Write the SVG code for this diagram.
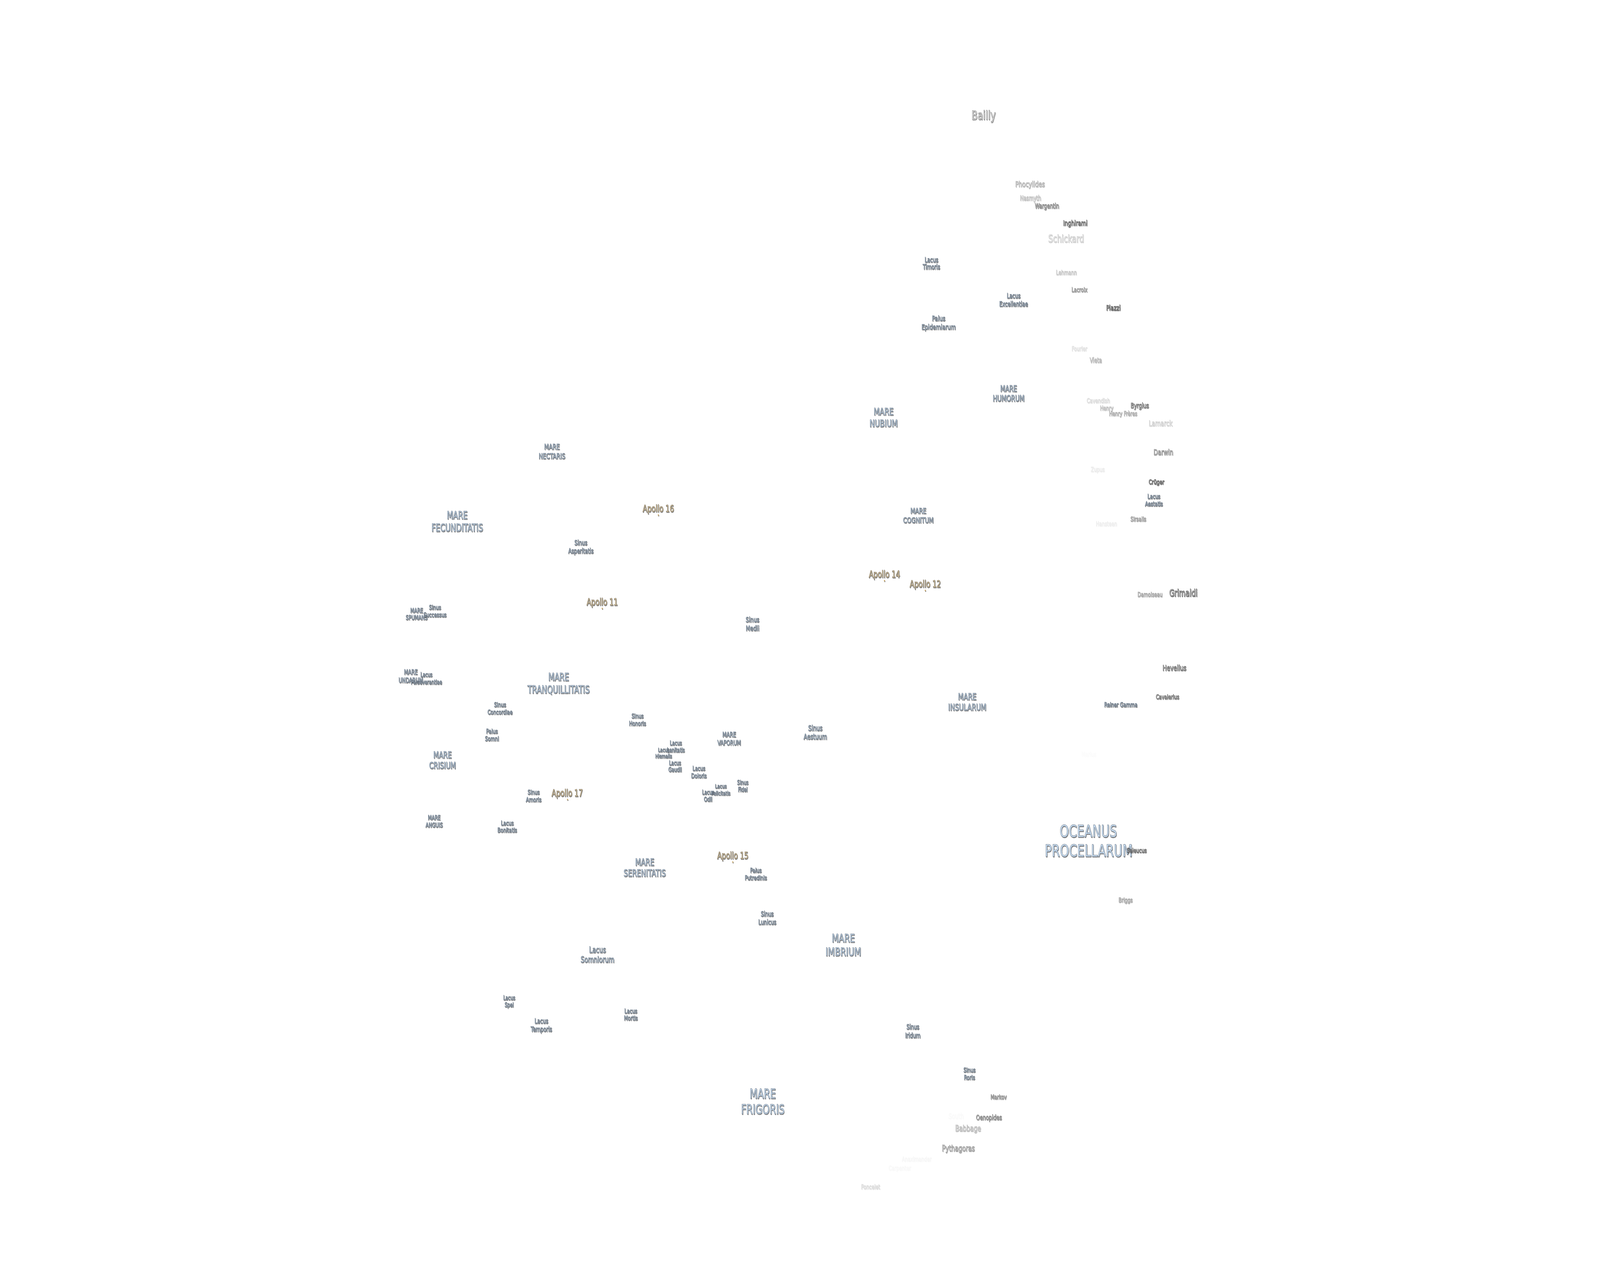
<svg xmlns="http://www.w3.org/2000/svg" width="5760" height="3240" viewBox="0 0 5760 3240" preserveAspectRatio="none">
<style>
svg{width:100vw;height:100vh;display:block}
text{font-family:"DejaVu Sans","Liberation Sans",sans-serif;text-anchor:middle;stroke-width:1px}
.m,.a,.c{filter:url(#s)}
.m text{fill:#cfe5fb;stroke:#6b7784}
.a text{fill:#fde3b0;stroke:#756d5e}
.c text{fill:#f0f0f0;stroke:#4d4d4d}
.a circle{fill:#c9a765}
</style>
<defs><filter id="s" x="-20%" y="-30%" width="140%" height="160%"><feGaussianBlur in="SourceAlpha" stdDeviation="0.7"/><feOffset dx="2" dy="2"/><feComponentTransfer><feFuncA type="linear" slope=".5"/></feComponentTransfer><feMerge><feMergeNode/><feMergeNode in="SourceGraphic"/></feMerge></filter></defs>
<rect width="5760" height="3240" fill="#ffffff"/>
<g id="labels">
<g id="oceanus-procellarum" class="m"><text x="3918" y="2142" font-size="42">OCEANUS</text><text x="3919" y="2192" font-size="42">PROCELLARUM</text></g>
<g id="mare-tranquillitatis" class="m"><text x="2011" y="1742" font-size="26">MARE</text><text x="2011" y="1774" font-size="26">TRANQUILLITATIS</text></g>
<g id="mare-fecunditatis" class="m"><text x="1646" y="1328" font-size="26">MARE</text><text x="1646" y="1360" font-size="26">FECUNDITATIS</text></g>
<g id="mare-serenitatis" class="m"><text x="2321" y="2215" font-size="24">MARE</text><text x="2321" y="2243" font-size="24">SERENITATIS</text></g>
<g id="mare-imbrium" class="m"><text x="3036" y="2411" font-size="29">MARE</text><text x="3036" y="2446" font-size="29">IMBRIUM</text></g>
<g id="mare-frigoris" class="m"><text x="2746" y="2811" font-size="33">MARE</text><text x="2746" y="2851" font-size="33">FRIGORIS</text></g>
<g id="mare-nubium" class="m"><text x="3181" y="1062" font-size="25">MARE</text><text x="3181" y="1092" font-size="25">NUBIUM</text></g>
<g id="mare-humorum" class="m"><text x="3631" y="1002" font-size="21">MARE</text><text x="3631" y="1027" font-size="21">HUMORUM</text></g>
<g id="mare-nectaris" class="m"><text x="1987" y="1150" font-size="19.5">MARE</text><text x="1987" y="1174" font-size="19.5">NECTARIS</text></g>
<g id="mare-cognitum" class="m"><text x="3306" y="1314" font-size="20">MARE</text><text x="3306" y="1338" font-size="20">COGNITUM</text></g>
<g id="mare-insularum" class="m"><text x="3482" y="1791" font-size="23">MARE</text><text x="3482" y="1818" font-size="23">INSULARUM</text></g>
<g id="mare-vaporum" class="m"><text x="2625" y="1886" font-size="17">MARE</text><text x="2625" y="1907" font-size="17">VAPORUM</text></g>
<g id="mare-crisium" class="m"><text x="1593" y="1940" font-size="23">MARE</text><text x="1593" y="1967" font-size="23">CRISIUM</text></g>
<g id="mare-anguis" class="m"><text x="1563" y="2098" font-size="16">MARE</text><text x="1563" y="2117" font-size="16">ANGUIS</text></g>
<g id="mare-undarum" class="m"><text x="1479" y="1726" font-size="17">MARE</text><text x="1479" y="1747" font-size="17">UNDARUM</text></g>
<g id="mare-spumans" class="m"><text x="1500" y="1568" font-size="16">MARE</text><text x="1500" y="1586" font-size="16">SPUMANS</text></g>
<g id="sinus-successus" class="m"><text x="1566" y="1560" font-size="16">Sinus</text><text x="1566" y="1579" font-size="16">Successus</text></g>
<g id="lacus-perseverantiae" class="m"><text x="1535" y="1732" font-size="15">Lacus</text><text x="1535" y="1751" font-size="15">Perseverantiae</text></g>
<g id="sinus-concordiae" class="m"><text x="1800" y="1809" font-size="16">Sinus</text><text x="1800" y="1828" font-size="16">Concordiae</text></g>
<g id="palus-somni" class="m"><text x="1771" y="1877" font-size="16">Palus</text><text x="1771" y="1896" font-size="16">Somni</text></g>
<g id="sinus-amoris" class="m"><text x="1921" y="2033" font-size="16">Sinus</text><text x="1921" y="2052" font-size="16">Amoris</text></g>
<g id="lacus-bonitatis" class="m"><text x="1826" y="2112" font-size="16">Lacus</text><text x="1826" y="2130" font-size="16">Bonitatis</text></g>
<g id="sinus-honoris" class="m"><text x="2295" y="1838" font-size="16">Sinus</text><text x="2295" y="1857" font-size="16">Honoris</text></g>
<g id="lacus-hiemalis" class="m"><text x="2389" y="1924" font-size="14">Lacus</text><text x="2389" y="1940" font-size="14">Hiemalis</text></g>
<g id="lacus-lenitatis" class="m"><text x="2433" y="1907" font-size="15">Lacus</text><text x="2433" y="1925" font-size="15">Lenitatis</text></g>
<g id="lacus-gaudii" class="m"><text x="2430" y="1958" font-size="15">Lacus</text><text x="2430" y="1975" font-size="15">Gaudii</text></g>
<g id="lacus-doloris" class="m"><text x="2516" y="1972" font-size="16">Lacus</text><text x="2516" y="1991" font-size="16">Doloris</text></g>
<g id="lacus-odii" class="m"><text x="2549" y="2033" font-size="15">Lacus</text><text x="2549" y="2051" font-size="15">Odii</text></g>
<g id="lacus-felicitatis" class="m"><text x="2595" y="2017" font-size="14.5">Lacus</text><text x="2595" y="2035" font-size="14.5">Felicitatis</text></g>
<g id="sinus-fidei" class="m"><text x="2674" y="2008" font-size="15">Sinus</text><text x="2674" y="2026" font-size="15">Fidei</text></g>
<g id="palus-putredinis" class="m"><text x="2721" y="2233" font-size="16">Palus</text><text x="2721" y="2252" font-size="16">Putredinis</text></g>
<g id="lacus-somniorum" class="m"><text x="2151" y="2438" font-size="21">Lacus</text><text x="2151" y="2463" font-size="21">Somniorum</text></g>
<g id="lacus-spei" class="m"><text x="1833" y="2559" font-size="15">Lacus</text><text x="1833" y="2577" font-size="15">Spei</text></g>
<g id="lacus-temporis" class="m"><text x="1949" y="2619" font-size="17">Lacus</text><text x="1949" y="2640" font-size="17">Temporis</text></g>
<g id="lacus-mortis" class="m"><text x="2271" y="2593" font-size="16">Lacus</text><text x="2271" y="2611" font-size="16">Mortis</text></g>
<g id="sinus-asperitatis" class="m"><text x="2091" y="1395" font-size="17">Sinus</text><text x="2091" y="1416" font-size="17">Asperitatis</text></g>
<g id="sinus-medii" class="m"><text x="2709" y="1592" font-size="18">Sinus</text><text x="2709" y="1614" font-size="18">Medii</text></g>
<g id="sinus-aestuum" class="m"><text x="2935" y="1870" font-size="19">Sinus</text><text x="2935" y="1892" font-size="19">Aestuum</text></g>
<g id="sinus-lunicus" class="m"><text x="2762" y="2345" font-size="17">Sinus</text><text x="2762" y="2366" font-size="17">Lunicus</text></g>
<g id="sinus-iridum" class="m"><text x="3286" y="2634" font-size="17">Sinus</text><text x="3286" y="2656" font-size="17">Iridum</text></g>
<g id="sinus-roris" class="m"><text x="3490" y="2744" font-size="16">Sinus</text><text x="3490" y="2763" font-size="16">Roris</text></g>
<g id="lacus-timoris" class="m"><text x="3353" y="671" font-size="17">Lacus</text><text x="3353" y="689" font-size="17">Timoris</text></g>
<g id="palus-epidemiarum" class="m"><text x="3379" y="821" font-size="18.5">Palus</text><text x="3379" y="843" font-size="18.5">Epidemiarum</text></g>
<g id="lacus-excellentiae" class="m"><text x="3649" y="763" font-size="17">Lacus</text><text x="3649" y="784" font-size="17">Excellentiae</text></g>
<g id="lacus-aestatis" class="m"><text x="4154" y="1276" font-size="16">Lacus</text><text x="4154" y="1295" font-size="16">Aestatis</text></g>
<g id="reiner-gamma" class="m"><text x="4035" y="1809" font-size="16">Reiner Gamma</text></g>
<g id="apollo-11" class="a"><text x="2168" y="1549" font-size="24">Apollo 11</text><circle cx="2168" cy="1557" r="2"/></g>
<g id="apollo-12" class="a"><text x="3331" y="1503" font-size="24">Apollo 12</text><circle cx="3331" cy="1511" r="2"/></g>
<g id="apollo-14" class="a"><text x="3184" y="1478" font-size="24">Apollo 14</text><circle cx="3184" cy="1486" r="2"/></g>
<g id="apollo-15" class="a"><text x="2638" y="2198" font-size="24">Apollo 15</text><circle cx="2638" cy="2206" r="2"/></g>
<g id="apollo-16" class="a"><text x="2370" y="1310" font-size="24">Apollo 16</text><circle cx="2370" cy="1318" r="2"/></g>
<g id="apollo-17" class="a"><text x="2042" y="2038" font-size="24">Apollo 17</text><circle cx="2043" cy="2046" r="2"/></g>
<g id="bailly" class="c" opacity=".75"><text x="3541" y="306" font-size="32">Bailly</text></g>
<g id="phocylides" class="c" opacity=".5"><text x="3708" y="478" font-size="20">Phocylides</text></g>
<g id="nasmyth" class="c" opacity=".4"><text x="3710" y="513" font-size="17">Nasmyth</text></g>
<g id="wargentin" class="c" opacity=".75"><text x="3769" y="533" font-size="17">Wargentin</text></g>
<g id="inghirami" class="c" opacity=".95"><text x="3871" y="577" font-size="18.5">Inghirami</text></g>
<g id="schickard" class="c" opacity=".35"><text x="3838" y="620" font-size="26.5">Schickard</text></g>
<g id="lehmann" class="c" opacity=".35"><text x="3839" y="703" font-size="16">Lehmann</text></g>
<g id="lacroix" class="c" opacity=".65"><text x="3886" y="747" font-size="16">Lacroix</text></g>
<g id="piazzi" class="c" opacity="1"><text x="4008" y="794" font-size="18.5">Piazzi</text></g>
<g id="fourier" class="c" opacity=".18"><text x="3886" y="898" font-size="16">Fourier</text></g>
<g id="vieta" class="c" opacity=".45"><text x="3945" y="928" font-size="17">Vieta</text></g>
<g id="cavendish" class="c" opacity=".22"><text x="3954" y="1031" font-size="16">Cavendish</text></g>
<g id="henry" class="c" opacity=".4"><text x="3984" y="1050" font-size="16">Henry</text></g>
<g id="henry-freres" class="c" opacity=".5"><text x="4043" y="1064" font-size="16">Henry Frères</text></g>
<g id="byrgius" class="c" opacity=".85"><text x="4103" y="1044" font-size="17.5">Byrgius</text></g>
<g id="lamarck" class="c" opacity=".3"><text x="4178" y="1090" font-size="20">Lamarck</text></g>
<g id="darwin" class="c" opacity=".7"><text x="4188" y="1164" font-size="20">Darwin</text></g>
<g id="zupus" class="c" opacity=".12"><text x="3952" y="1207" font-size="16">Zupus</text></g>
<g id="cruger" class="c" opacity=".95"><text x="4163" y="1239" font-size="16.5">Crüger</text></g>
<g id="sirsalis" class="c" opacity=".6"><text x="4098" y="1334" font-size="16">Sirsalis</text></g>
<g id="hansteen" class="c" opacity=".1"><text x="3983" y="1346" font-size="16">Hansteen</text></g>
<g id="damoiseau" class="c" opacity=".55"><text x="4140" y="1527" font-size="16">Damoiseau</text></g>
<g id="grimaldi" class="c" opacity="1"><text x="4260" y="1526" font-size="24">Grimaldi</text></g>
<g id="hevelius" class="c" opacity=".9"><text x="4228" y="1716" font-size="20">Hevelius</text></g>
<g id="cavalerius" class="c" opacity=".85"><text x="4203" y="1789" font-size="16">Cavalerius</text></g>
<g id="marius" class="c" opacity=".02"><text x="3920" y="1936" font-size="16">Marius</text></g>
<g id="seleucus" class="c" opacity=".9"><text x="4092" y="2182" font-size="16">Seleucus</text></g>
<g id="briggs" class="c" opacity=".55"><text x="4052" y="2309" font-size="16">Briggs</text></g>
<g id="markov" class="c" opacity=".7"><text x="3595" y="2813" font-size="16">Markov</text></g>
<g id="oenopides" class="c" opacity=".75"><text x="3560" y="2866" font-size="17.5">Oenopides</text></g>
<g id="south" class="c" opacity=".03"><text x="3442" y="2863" font-size="19">South</text></g>
<g id="babbage" class="c" opacity=".45"><text x="3485" y="2895" font-size="21">Babbage</text></g>
<g id="pythagoras" class="c" opacity=".65"><text x="3450" y="2946" font-size="21">Pythagoras</text></g>
<g id="anaximander" class="c" opacity=".05"><text x="3300" y="2972" font-size="16">Anaximander</text></g>
<g id="carpenter" class="c" opacity=".04"><text x="3239" y="2995" font-size="16">Carpenter</text></g>
<g id="poncelet" class="c" opacity=".22"><text x="3134" y="3043" font-size="16">Poncelet</text></g>
</g>
</svg>
